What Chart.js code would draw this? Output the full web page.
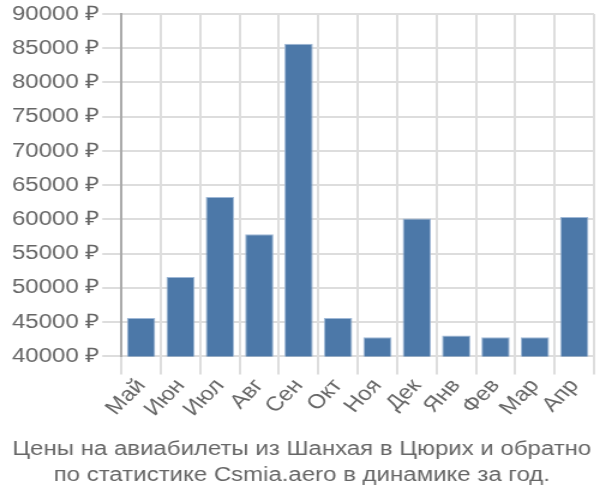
<!DOCTYPE html>
<html>
<head>
<meta charset="utf-8">
<script src="https://cdn.jsdelivr.net/npm/chart.js@4/dist/chart.umd.min.js"></script>
<style>
  html, body { margin: 0; padding: 0; background: #fff; overflow: hidden; }
  #wrap { width: 500px; height: 500px; transform: scaleX(1.2); transform-origin: 0 0; }
</style>
</head>
<body>
<div id="wrap"><canvas id="chart"></canvas></div>
<script>
const months = ['Май', 'Июн', 'Июл', 'Авг', 'Сен', 'Окт', 'Ноя', 'Дек', 'Янв', 'Фев', 'Мар', 'Апр'];
const prices = [45600, 51600, 63300, 57850, 85650, 45600, 42800, 60150, 43050, 42800, 42800, 60350];
const titleLines = ['Цены на авиабилеты из Шанхая в Цюрих и обратно', 'по статистике Csmia.aero в динамике за год.'];

const font = "'Liberation Sans', Arial, sans-serif";

new Chart(document.getElementById('chart').getContext('2d'), {
  type: 'bar',
  data: {
    labels: months,
    datasets: [{
      data: prices,
      backgroundColor: '#4c78a8',
      borderColor: '#9fb8d6',
      borderWidth: 1
    }]
  },
  options: {
    responsive: true,
    maintainAspectRatio: false,
    animation: false,
    layout: { padding: { left: 8, right: 5, top: 5, bottom: 0 } },
    plugins: {
      legend: { display: false },
      tooltip: { enabled: false },
      title: {
        display: true,
        position: 'bottom',
        text: titleLines,
        color: '#666',
        font: { family: font, size: 20, weight: 'normal', lineHeight: 1.3 },
        padding: { top: 15, bottom: 12 }
      }
    },
    scales: {
      x: {
        grid: { color: '#ddd', lineWidth: 2, tickLength: 18, offset: true },
        border: { color: '#ddd' },
        ticks: { color: '#666', font: { family: font, size: 20 }, autoSkip: false, maxRotation: 50, minRotation: 50, padding: 0 }
      },
      y: {
        min: 40000,
        max: 90000,
        grid: { color: '#ddd', lineWidth: 2, tickLength: 16 },
        border: { color: '#aaa', width: 2 },
        ticks: {
          stepSize: 5000,
          color: '#666',
          padding: 2,
          font: { family: font, size: 20 },
          callback: v => v + ' ₽'
        }
      }
    }
  }
});
</script>
</body>
</html>
